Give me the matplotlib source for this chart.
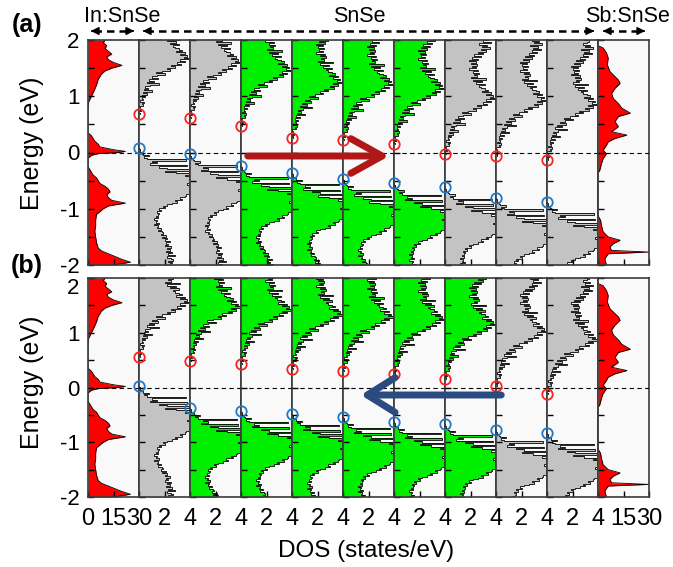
import numpy as np
import matplotlib.pyplot as plt

plt.rcParams['font.family'] = ['Liberation Sans', 'DejaVu Sans']

# In:SnSe projected DOS (left panel, 0-30 states/eV)
in_energy = [2.0, 1.95, 1.9, 1.85, 1.8, 1.75, 1.7, 1.65, 1.6, 1.55, 1.5, 1.45, 1.4, 1.35, 1.3,
             1.2, 1.1, 1.0, 0.9, 0.8, 0.35, 0.3, 0.25, 0.2, 0.15, 0.1, 0.05, 0.02, 0.0, -0.02,
             -0.05, -0.1, -0.25, -0.3, -0.35, -0.4, -0.45, -0.5, -0.55, -0.6, -0.65, -0.7, -0.75,
             -0.8, -0.85, -0.9, -0.95, -1.0, -1.05, -1.1, -1.2, -1.3, -1.4, -1.5, -1.6, -1.7,
             -1.75, -1.8, -1.85, -1.9, -1.95, -2.0]
in_dos = [10, 9, 11, 10, 12, 14, 11, 12, 15, 20, 14, 10, 8, 7, 6,
          5, 3.6, 2, 0.4, 0, 0, 2, 3, 4, 6, 7, 15, 22, 18, 6,
          2, 0, 0, 1, 2, 3, 5, 6, 7, 10, 12, 13, 11,
          12, 14, 22, 12, 9, 7, 5, 4.5, 4.5, 4, 4.5, 5, 6,
          8, 12, 16, 20, 25, 15]

# Sb:SnSe projected DOS (right panel, 0-30 states/eV)
sb_energy = [2.0, 1.9, 1.86, 1.77, 1.68, 1.56, 1.44, 1.35, 1.29, 1.23, 1.14, 1.05, 0.96, 0.87,
             0.79, 0.70, 0.64, 0.55, 0.46, 0.37, 0.31, 0.25, 0.19, 0.13, 0.04, -0.02, -0.11,
             -0.2, -0.32, -0.36, -1.1, -1.15, -1.2, -1.29, -1.41, -1.5, -1.56, -1.62, -1.68,
             -1.74, -1.77, -1.8, -1.89, -2.0]
sb_dos = [0, 0, 3, 5, 6, 5.5, 7, 10, 12, 13, 10, 8, 9, 12,
          14, 19, 12, 10, 12, 8, 17, 10, 6, 5, 3, 5, 3,
          2, 1, 0, 0, 0.5, 1.5, 2, 3, 6, 13, 9, 7,
          8, 30, 6, 4, 5]

# SnSe layer DOS, read on a 0.025 eV grid measured from the band edges
grid_step = 0.025
cb_profile = [0.1, 0.0, 0.15, 0.05, 0.1, 0.0,
              0.3, 0.2, 0.4, 0.1, 0.3, 0.2, 0.5, 0.2,
              0.6, 0.3, 1.0, 0.4, 0.7, 0.5,
              0.9, 1.6, 0.6, 1.2, 0.8, 1.5,
              1.0, 1.4, 2.0, 1.3, 1.8, 2.4,
              2.2, 2.8, 2.5, 3.3, 3.0, 3.6, 3.2, 4.0,
              3.5, 3.8, 3.2, 3.6, 2.9, 3.4, 3.1, 2.8,
              2.7, 3.1, 2.4, 2.9, 2.2, 3.2, 2.0, 2.5,
              2.3, 2.7, 2.2, 2.6, 1.9, 2.4, 2.1, 2.5,
              2.0, 2.4, 1.9, 2.6, 2.1, 2.8, 2.3, 3.0,
              2.6, 3.2, 2.8, 3.5, 2.9, 3.3, 2.7, 3.6, 3.0, 3.4,
              2.8, 3.1, 3.3, 2.9, 3.2, 3.0, 2.8, 3.1, 2.9, 3.0]
vb_profile = [0.0, 0.1, 0.05, 0.2,
              0.3, 0.8, 0.4, 0.6,
              3.7, 1.0, 1.4, 0.9,
              3.8, 1.6, 2.2, 4.0, 2.0, 2.9,
              4.2, 3.6, 4.3, 3.9, 4.5, 4.1, 4.4, 3.8, 4.6, 4.2, 4.0, 4.4, 3.9, 4.3, 4.1, 3.7,
              3.6, 3.2, 3.4, 2.8, 3.0, 2.6,
              2.2, 1.9, 2.0, 1.6, 1.7, 1.4, 1.6, 1.5,
              1.3, 1.5, 1.2, 1.4, 1.3, 1.6, 1.2, 1.5, 1.4, 1.7, 1.5, 1.8,
              1.9, 1.7, 2.1, 1.8, 2.2, 2.0, 2.4, 2.1, 2.3, 2.0, 2.5, 2.2,
              2.4, 2.1, 2.6, 2.3, 2.8, 2.2, 2.5, 2.7, 2.3, 2.6,
              2.4, 2.9, 2.5, 2.7, 2.3, 2.6, 2.8, 2.4, 2.5, 2.7]

# band edges (circles) of the nine SnSe layers
cbm_a = [0.68, 0.61, 0.47, 0.26, 0.22, 0.15, -0.03, -0.06, -0.13]
vbm_a = [0.08, -0.03, -0.24, -0.36, -0.47, -0.55, -0.62, -0.81, -0.88]
cbm_b = [0.56, 0.48, 0.43, 0.34, 0.30, 0.25, 0.16, 0.03, -0.12]
vbm_b = [0.03, -0.37, -0.43, -0.48, -0.54, -0.63, -0.67, -0.78, -0.83]
layer_a = ['grey', 'grey', 'green', 'green', 'green', 'green', 'grey', 'grey', 'grey']
layer_b = ['grey', 'green', 'green', 'green', 'green', 'green', 'green', 'grey', 'grey']

fill_colors = {'grey': '#c3c3c3', 'green': '#00ee00', 'red': '#ff0000'}


def steps(e, d):
    e = np.asarray(e, float)
    d = np.asarray(d, float)
    return np.repeat(e, 2)[1:], np.repeat(d, 2)[:-1]


W, H = 673.0, 567.0
x0, pw = 88, 51
rows = [(40, 265, cbm_a, vbm_a, layer_a), (278, 497, cbm_b, vbm_b, layer_b)]

fig = plt.figure(figsize=(W / 100, H / 100), dpi=100)

delta = np.arange(len(cb_profile)) * grid_step

for r, (top, bot, cbm, vbm, layers) in enumerate(rows):
    for k in range(11):
        ax = fig.add_axes([(x0 + k * pw) / W, 1 - bot / H, pw / W, (bot - top) / H])
        ax.set_facecolor('#f9f9f9')
        ax.set_ylim(-2, 2)
        for sp in ax.spines.values():
            sp.set_color('#3a3a3a')
            sp.set_linewidth(1.2)

        if k == 0 or k == 10:
            e, d = (in_energy, in_dos) if k == 0 else (sb_energy, sb_dos)
            ax.fill_betweenx(e, 0, d, color=fill_colors['red'], lw=0)
            ax.plot(d, e, color='k', lw=0.6)
            ax.set_xlim(0, 30)
            ax.set_xticks([0, 15, 30])
            ax.set_xticklabels(['0', '15', '30'] if k == 0 else ['', '15', '30'])
        else:
            i = k - 1
            col = fill_colors[layers[i]]
            ec, dc = steps(cbm[i] + delta, cb_profile)
            ev, dv = steps(vbm[i] - delta, vb_profile)
            for ee, dd in [(ec, dc), (ev, dv)]:
                ax.fill_betweenx(ee, 0, dd, color=col, lw=0)
                ax.plot(dd, ee, color='k', lw=0.6)
            ax.set_xlim(0, 4)
            ax.set_xticks([0, 2, 4])
            ax.set_xticklabels(['', '2', '4'])
            ax.plot(0, cbm[i], 'o', mfc='none', mec='#ff2020', ms=7.5, mew=1.3,
                    clip_on=False, zorder=6)
            ax.plot(0, vbm[i], 'o', mfc='none', mec='#1f78c8', ms=7.5, mew=1.3,
                    clip_on=False, zorder=6)

        ax.axhline(0, color='k', lw=0.8, dashes=(4, 3), zorder=4)
        ax.set_yticks(np.arange(-2, 2.01, 0.5))
        if k == 0:
            ax.set_yticklabels(['-2', '', '-1', '', '0', '', '1', '', '2'])
        else:
            ax.set_yticklabels([])
        ax.tick_params(axis='y', direction='in', length=4, width=1, labelsize=16, pad=6)
        ax.tick_params(axis='x', direction='in', length=4, width=1, labelsize=17, pad=8)
        if r == 0:
            ax.set_xticklabels([])
        if r == 1 and k == 0:
            # the top label of panel (b) sits just below the frame
            ax.get_yticklabels()[-1].set_va('top')

# overlay in pixel coordinates for labels and arrows
ov = fig.add_axes([0, 0, 1, 1])
ov.set_xlim(0, W)
ov.set_ylim(H, 0)
ov.axis('off')

ov.text(27, 25, '(a)', fontsize=18, fontweight='bold', ha='center', va='center')
ov.text(27, 266, '(b)', fontsize=18, fontweight='bold', ha='center', va='center')
ov.text(32, 143, 'Energy (eV)', fontsize=18, rotation=90, ha='center', va='center')
ov.text(32, 382, 'Energy (eV)', fontsize=18, rotation=90, ha='center', va='center')
ov.text(366, 551, 'DOS (states/eV)', fontsize=17.5, ha='center', va='center')

ov.text(122, 17, 'In:SnSe', fontsize=15.5, ha='center', va='center')
ov.text(359, 17, 'SnSe', fontsize=15.5, ha='center', va='center')
ov.text(627, 17, 'Sb:SnSe', fontsize=15.5, ha='center', va='center')
for a, b in [(88, 137), (140, 597), (600, 648)]:
    ov.plot([a + 6, b - 6], [31, 31], color='k', lw=1.8, dashes=(3, 2))
    ov.annotate('', xy=(a, 31), xytext=(a + 7, 31),
                arrowprops=dict(arrowstyle='-|>', color='k', lw=1, mutation_scale=12))
    ov.annotate('', xy=(b, 31), xytext=(b - 7, 31),
                arrowprops=dict(arrowstyle='-|>', color='k', lw=1, mutation_scale=12))

ov.annotate('', xy=(392, 156), xytext=(245, 156),
            arrowprops=dict(arrowstyle='->,head_length=0.9,head_width=0.5', lw=5,
                            color='#b01818', mutation_scale=25))
ov.annotate('', xy=(358, 395), xytext=(504, 395),
            arrowprops=dict(arrowstyle='->,head_length=0.8,head_width=0.5', lw=5,
                            color='#2b4a80', mutation_scale=25))

fig.savefig('out.png', dpi=100)
